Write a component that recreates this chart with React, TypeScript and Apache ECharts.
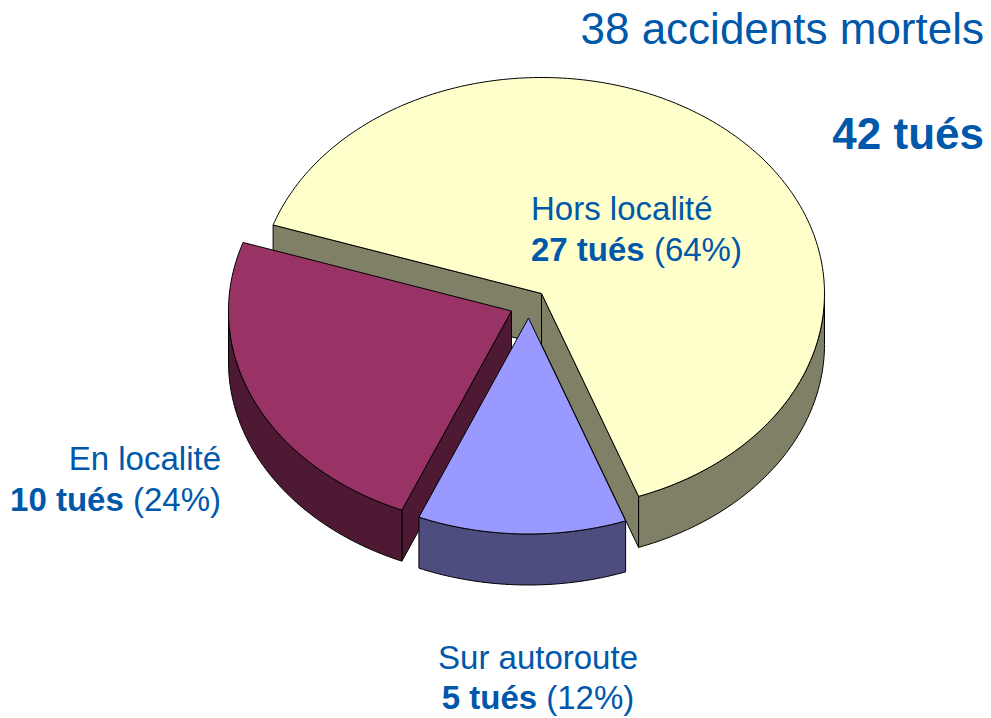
import React, { useEffect, useRef } from "react";
import * as echarts from "echarts";

const categories = ["Hors localité", "Sur autoroute", "En localité"];
const killed = [27, 5, 10];
const percentLabels = ["(64%)", "(12%)", "(24%)"];
const titleLines = ["38 accidents mortels", "42 tués"];

const topColors = ["#FFFFCC", "#9999FF", "#993366"];
const sideColors = ["#808066", "#4D4D80", "#4D1933"];
const centers = [[541.5, 293.5], [528.5, 318], [511.5, 311]];
const drawOrder = [0, 2, 1];
const TEXT = "#0058AA";
const FONT = "Liberation Sans, Arial, sans-serif";
const RX = 283;
const RY = 216;
const DEPTH = 51;
const START_DEG = -71.5;

const total = killed.reduce((a, b) => a + b, 0);
const rad = (d: number) => (d * Math.PI) / 180;

function arcPts(c: number[], a: number, b: number, dy = 0) {
  const pts: number[][] = [];
  const n = Math.max(2, Math.ceil(Math.abs(b - a)));
  for (let i = 0; i <= n; i++) {
    const t = rad(a + ((b - a) * i) / n);
    pts.push([c[0] + RX * Math.sin(t), c[1] - RY * Math.cos(t) + dy]);
  }
  return pts;
}

function sliceAngles(i: number) {
  let sum = 0;
  for (let k = 0; k < i; k++) sum += killed[k];
  const a = START_DEG + (sum / total) * 360;
  return [a, a + (killed[i] / total) * 360];
}

function renderSlice(_: any, api: any) {
  const i = api.value(0) as number;
  const [a, b] = sliceAngles(i);
  const c = centers[i];
  const children: any[] = [];
  const poly = (points: number[][], fill: string) => ({
    type: "polygon",
    shape: { points },
    style: { fill, stroke: "#000", lineWidth: 1, lineJoin: "round" },
  });
  const wall = (t: number) => {
    const p = arcPts(c, t, t + 1)[0];
    return poly([c, p, [p[0], p[1] + DEPTH], [c[0], c[1] + DEPTH]], sideColors[i]);
  };
  if (Math.sin(rad(a)) < 0) children.push(wall(a));
  if (Math.sin(rad(b)) > 0) children.push(wall(b));
  // outer rim: only the front half of the ellipse (90 to 270 degrees) can be seen
  const from = Math.max(a, 90);
  const to = Math.min(b, 270);
  if (to > from) {
    children.push(poly([...arcPts(c, from, to), ...arcPts(c, to, from, DEPTH)], sideColors[i]));
  }
  children.push(poly([c, ...arcPts(c, a, b)], topColors[i]));
  return { type: "group", children };
}

function label(text: string, x: number, y: number, align: string, size = 33, bold = false) {
  return {
    type: "text",
    x,
    y,
    z: 100,
    silent: true,
    style: {
      text,
      fill: TEXT,
      font: `${bold ? "bold " : ""}${size}px ${FONT}`,
      textAlign: align,
      textVerticalAlign: "middle",
      rich: {
        b: { font: `bold ${size}px ${FONT}`, fill: TEXT },
      },
    },
  };
}

const tues = (i: number) => `{b|${killed[i]} tués} ${percentLabels[i]}`;

export default function App() {
  const ref = useRef<HTMLDivElement>(null);
  useEffect(() => {
    document.body.style.margin = "0";
    const chart = echarts.init(ref.current!, undefined, { renderer: "svg" });
    chart.setOption({
      animation: false,
      backgroundColor: "#fff",
      series: [
        {
          type: "custom",
          coordinateSystem: "none",
          renderItem: renderSlice,
          data: drawOrder.map((i) => ({ name: categories[i], value: [i, killed[i]] })),
          silent: true,
          z: 1,
        },
      ],
      graphic: [
        label(titleLines[0], 984, 28, "right", 44),
        label(titleLines[1], 984, 133, "right", 44, true),
        label(categories[0], 531, 208, "left"),
        label(tues(0), 531, 249, "left"),
        label(categories[2], 221, 458, "right"),
        label(tues(2), 221, 499, "right"),
        label(categories[1], 538, 657, "center"),
        label(tues(1), 538, 697, "center"),
      ],
    });
    return () => chart.dispose();
  }, []);
  return <div ref={ref} style={{ position: "fixed", left: 0, top: 0, width: 991, height: 718 }} />;
}
